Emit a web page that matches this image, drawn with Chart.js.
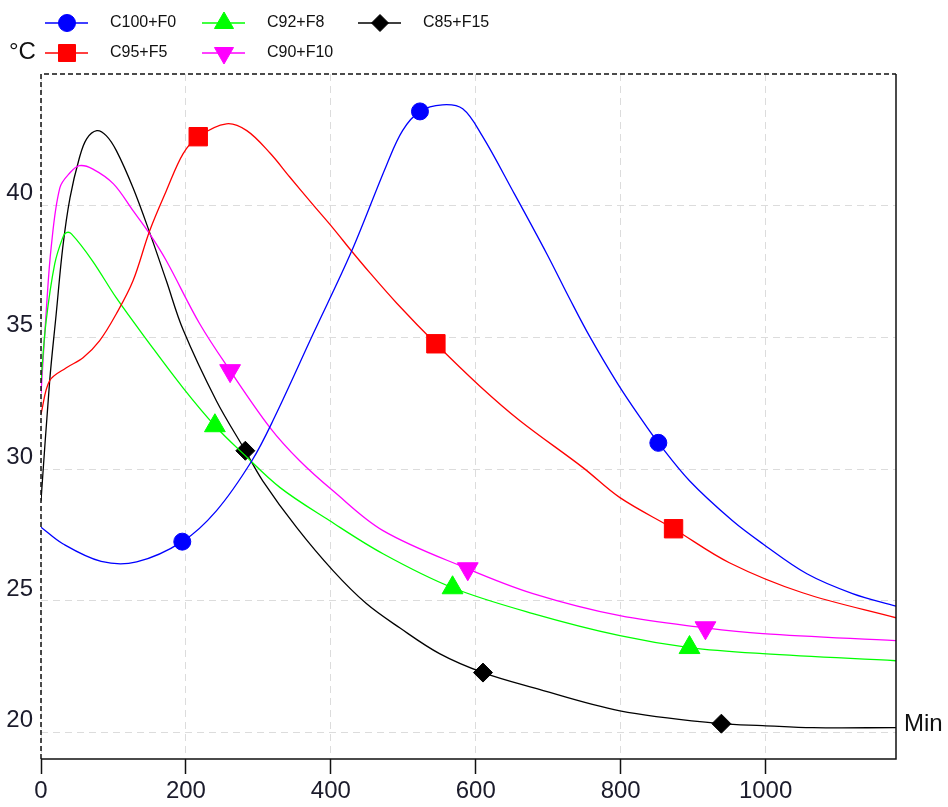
<!DOCTYPE html>
<html>
<head>
<meta charset="utf-8">
<script src="https://cdn.jsdelivr.net/npm/chart.js@4.4.1/dist/chart.umd.min.js"></script>
<style>
  body { margin: 0; background: #fff; }
  #box { width: 948px; height: 807px; }
</style>
</head>
<body>
<div id="box"><canvas id="grafico"></canvas></div>
<script>
// values (time in min, temperature in °C)
const c100X = [0, 30, 83, 132, 195, 242, 291, 322, 375, 428, 477, 499, 523, 554, 582, 609, 651, 698, 730, 757, 796, 830, 852, 895, 954, 996, 1057, 1120, 1180];
const c100Y = [27.8, 27.17, 26.5, 26.48, 27.25, 28.42, 30.32, 31.95, 35.1, 38.23, 41.55, 42.85, 43.58, 43.83, 43.68, 42.65, 40.57, 38.18, 36.45, 35.05, 33.24, 31.84, 31.0, 29.56, 28.05, 27.17, 26.03, 25.28, 24.8];
const c100Marks = [195, 523, 852];

const c95X = [0, 12, 35, 58, 81, 104, 127, 150, 173, 196, 217, 256, 284, 316, 343, 375, 403, 428, 454, 491, 545, 605, 661, 748, 799, 873, 950, 1051, 1180];
const c95Y = [32.1, 33.36, 33.85, 34.23, 34.88, 35.9, 37.15, 39.05, 40.57, 41.97, 42.62, 43.11, 42.85, 42.0, 41.1, 40.05, 39.15, 38.3, 37.45, 36.3, 34.76, 33.17, 31.84, 30.06, 28.92, 27.74, 26.45, 25.31, 24.36];
const c95Marks = [217, 545, 873];

const c92X = [0, 7, 19, 30, 35, 42, 71, 104, 150, 196, 240, 279, 330, 398, 472, 568, 679, 799, 895, 996, 1180];
const c92Y = [33.36, 35.6, 37.8, 38.79, 38.98, 38.93, 37.91, 36.5, 34.76, 33.09, 31.65, 30.59, 29.3, 28.05, 26.79, 25.5, 24.52, 23.68, 23.23, 23.0, 22.73];
const c92Marks = [240, 568, 895];

const c90X = [0, 7, 14, 26, 40, 53, 71, 100, 127, 150, 173, 219, 261, 316, 357, 403, 472, 589, 679, 799, 917, 996, 1180];
const c90Y = [32.87, 35.9, 38.41, 40.68, 41.25, 41.52, 41.4, 40.83, 39.81, 38.93, 37.91, 35.52, 33.74, 31.58, 30.32, 29.18, 27.67, 26.22, 25.28, 24.44, 23.98, 23.76, 23.49];
const c90Marks = [261, 589, 917];

const c85X = [0, 12, 21, 30, 40, 53, 63, 77, 90, 104, 127, 150, 173, 196, 242, 282, 306, 353, 403, 449, 495, 550, 610, 679, 799, 939, 996, 1065, 1180];
const c85Y = [28.8, 33.36, 35.9, 38.41, 40.3, 41.82, 42.54, 42.85, 42.66, 42.09, 40.68, 38.98, 37.15, 35.3, 32.6, 30.7, 29.56, 27.78, 26.15, 24.9, 23.98, 23.0, 22.28, 21.71, 20.83, 20.34, 20.27, 20.19, 20.19];
const c85Marks = [282, 610, 939];

const xTicks = [0, 200, 400, 600, 800, 1000];
const yTicks = [20, 25, 30, 35, 40];

const FONT = '"Liberation Sans Narrow", "Liberation Sans", Arial, sans-serif';

function serie(label, xs, ys, marks, color, style, radius, rotation) {
  return {
    label: label,
    data: xs.map((x, i) => ({ x: x, y: ys[i] })),
    borderColor: color,
    backgroundColor: color,
    borderWidth: 1.3,
    tension: 0.35,
    pointStyle: style,
    pointRotation: rotation || 0,
    pointBackgroundColor: color,
    pointBorderColor: color,
    pointBorderWidth: 1,
    pointRadius: ctx => marks.includes(ctx.raw.x) ? radius : 0,
    pointHoverRadius: 0
  };
}

const sets = [
  serie('C100+F0', c100X, c100Y, c100Marks, '#0000ff', 'circle', 8.5),
  serie('C95+F5', c95X, c95Y, c95Marks, '#ff0000', 'rect', 13),
  serie('C92+F8', c92X, c92Y, c92Marks, '#00ff00', 'triangle', 12),
  serie('C90+F10', c90X, c90Y, c90Marks, '#ff00ff', 'triangle', 12, 180),
  serie('C85+F15', c85X, c85Y, c85Marks, '#000000', 'rectRot', 9.5)
];

// legend slots: [dataset index, x of line start, row y]
const legendSlots = [[0, 45, 23], [2, 202, 23], [4, 358, 23], [1, 45, 53], [3, 202, 53]];

const moldura = {
  id: 'moldura',
  afterDraw(chart) {
    const { ctx, chartArea: a } = chart;
    ctx.save();
    ctx.strokeStyle = '#111';
    ctx.lineWidth = 1.5;
    ctx.setLineDash([5, 3]);
    ctx.beginPath();
    ctx.moveTo(a.left, a.bottom);
    ctx.lineTo(a.left, a.top);
    ctx.lineTo(a.right, a.top);
    ctx.stroke();
    ctx.setLineDash([]);
    ctx.beginPath();
    ctx.moveTo(a.left, a.bottom);
    ctx.lineTo(a.right, a.bottom);
    ctx.lineTo(a.right, a.top);
    ctx.stroke();

    ctx.fillStyle = '#111';
    ctx.textBaseline = 'middle';
    ctx.font = '24px ' + FONT;
    ctx.fillText('Min', a.right + 8, chart.scales.y.getPixelForValue(20) - 8);
    ctx.fillText('°C', 9, 52);

    // legend
    ctx.font = '16px ' + FONT;
    legendSlots.forEach(([i, x, y]) => {
      const ds = chart.data.datasets[i];
      ctx.strokeStyle = ds.borderColor;
      ctx.fillStyle = ds.borderColor;
      ctx.lineWidth = 1.5;
      ctx.beginPath();
      ctx.moveTo(x, y);
      ctx.lineTo(x + 43, y);
      ctx.stroke();
      ctx.lineWidth = 1;
      const r = ds.pointStyle === 'rect' ? 12 : ds.pointStyle === 'triangle' ? 11 : 8.5;
      Chart.helpers.drawPoint(ctx, { pointStyle: ds.pointStyle, radius: r, rotation: ds.pointRotation, borderWidth: 1 }, x + 22, y);
      ctx.fillStyle = '#111';
      ctx.fillText(ds.label, x + 65, y);
    });
    ctx.restore();
  }
};

new Chart(document.getElementById('grafico'), {
  type: 'line',
  data: { datasets: sets },
  plugins: [moldura],
  options: {
    responsive: true,
    maintainAspectRatio: false,
    animation: false,
    layout: { padding: { top: 74, right: 52, left: 0, bottom: 0 } },
    plugins: { legend: { display: false }, tooltip: { enabled: false } },
    scales: {
      x: {
        type: 'linear',
        min: 0,
        max: 1180,
        afterBuildTicks: s => { s.ticks = xTicks.map(v => ({ value: v })); },
        afterFit: s => { s.height = 48; },
        ticks: {
          callback: v => String(v),
          font: { size: 24, family: FONT },
          color: '#1b1b2b',
          padding: 3,
          maxRotation: 0,
          autoSkip: false
        },
        grid: {
          color: '#dcdcdc',
          lineWidth: 1,
          tickLength: 15,
          tickColor: '#111',
          tickWidth: 1.5,
          tickBorderDash: []
        },
        border: { display: false, dash: [7, 5] }
      },
      y: {
        min: 19,
        max: 45,
        afterBuildTicks: s => { s.ticks = yTicks.map(v => ({ value: v })); },
        afterFit: s => { s.width = 41; },
        ticks: {
          font: { size: 24, family: FONT },
          color: '#1b1b2b',
          padding: 8,
          labelOffset: -12
        },
        grid: { color: '#dcdcdc', lineWidth: 1, drawTicks: false },
        border: { display: false, dash: [7, 5] }
      }
    }
  }
});
</script>
</body>
</html>
